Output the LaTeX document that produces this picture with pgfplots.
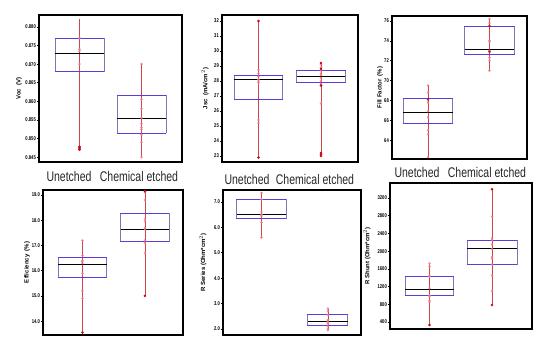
\documentclass[border=0pt]{standalone}
\usepackage{fontspec}
\setmainfont{Liberation Sans}
\newfontfamily\narrowfont[FakeStretch=0.75]{Liberation Sans}
\usepackage{pgfplots}
\pgfplotsset{compat=1.18}
\definecolor{boxc}{RGB}{95,60,215}
\definecolor{boxs}{RGB}{135,115,175}
\definecolor{whisk}{RGB}{205,70,70}
\definecolor{ptc}{RGB}{240,120,140}
\definecolor{ptd}{RGB}{200,10,25}
\pgfplotsset{
  panel/.style={
    scale only axis, anchor=south west,
    axis line style={line width=1.5pt, black},
    xtick=\empty,
    ytick pos=left, tick align=outside,
    major tick length=2pt, minor tick length=1pt, minor y tick num=1,
    tick style={black, line width=0.5pt},
    /pgf/number format/assume math mode=true,
    /pgf/number format/1000 sep={},
    yticklabel style={font=\narrowfont\bfseries\fontsize{5.5}{6}\selectfont, inner sep=1pt},
    ylabel style={font=\bfseries\fontsize{6}{7}\selectfont, at={(axis description cs:0,0.5)}, anchor=center},
    clip=false,
  },
}
% xl, xr, lower quartile, median, upper quartile
\newcommand{\bx}[5]{%
  \addplot[boxs, line width=0.9pt, line cap=rect] coordinates {(#1,#3) (#1,#5)};
  \addplot[boxs, line width=0.9pt, line cap=rect] coordinates {(#2,#3) (#2,#5)};
  \addplot[boxc, line width=0.9pt, line cap=rect] coordinates {(#1,#3) (#2,#3)};
  \addplot[boxc, line width=0.9pt, line cap=rect] coordinates {(#1,#5) (#2,#5)};
  \addplot[black, line width=0.9pt] coordinates {(#1,#4) (#2,#4)};
}
\newcommand{\wl}[3]{\addplot[whisk, line width=0.5pt] coordinates {(#1,#2) (#1,#3)};}
\begin{document}
\begin{tikzpicture}
\useasboundingbox (0,0) rectangle (554pt,352pt);
% ---------- Voc
\begin{axis}[panel, at={(39pt,190pt)}, width=143pt, height=147pt,
  xmin=0.347, xmax=2.653, ymin=0.8437, ymax=0.8832,
  ytick={0.845,0.850,0.855,0.860,0.865,0.870,0.875,0.880},
  yticklabel style={/pgf/number format/.cd, fixed, fixed zerofill, precision=3},
  ylabel={Voc\ \ (V)}, ylabel style={yshift=20pt}]
\wl{1}{0.847}{0.882}
\wl{2}{0.845}{0.870}
\addplot[only marks, mark=*, mark size=1.1pt, ptc, opacity=0.7] coordinates {(1,0.874) (1,0.870) (1,0.8735) (1,0.877) (2,0.8605) (2,0.858) (2,0.8555) (2,0.854) (2,0.853) (2,0.8525) (2,0.851) (2,0.849) (2,0.845) (2,0.870)};
\addplot[only marks, mark=*, mark size=1.1pt, ptd] coordinates {(1,0.8475) (1,0.8478) (1,0.847) (1,0.8472)};
\bx{0.605}{1.395}{0.868}{0.873}{0.877}
\bx{1.605}{2.395}{0.8515}{0.8555}{0.8615}
\end{axis}
% ---------- Jsc
\begin{axis}[panel, at={(222pt,190pt)}, width=136pt, height=147pt,
  xmin=0.416, xmax=2.59, ymin=22.6, ymax=32.4,
  ytick={23,24,...,32},
  ylabel={Jsc\ \ (mA/cm$^{2}$)}, ylabel style={yshift=17pt}]
\wl{1}{22.9}{32.0}
\wl{2}{23.1}{29.2}
\addplot[only marks, mark=*, mark size=1.1pt, ptc, opacity=0.7] coordinates {(1,28.75) (1,28.5) (1,28.3) (1,28.1) (1,28.0) (1,27.9) (1,25.4) (1,25.2) (2,29.1) (2,28.9) (2,28.7) (2,28.5) (2,28.4) (2,28.2) (2,28.0) (2,27.8) (2,27.7) (2,26.5)};
\addplot[only marks, mark=*, mark size=1.1pt, ptd] coordinates {(1,32.0) (1,22.9) (2,29.2) (2,28.8) (2,27.7) (2,23.2) (2,23.1) (2,23.0)};
\bx{0.61}{1.39}{26.8}{28.1}{28.4}
\bx{1.61}{2.39}{27.9}{28.3}{28.7}
\end{axis}
% ---------- Fill factor
\begin{axis}[panel, at={(392pt,193pt)}, width=135pt, height=143pt,
  xmin=0.415, xmax=2.61, ymin=62.1, ymax=76.5,
  ytick={64,66,...,76},
  ylabel={Fill Factor\ \ (\%)}, ylabel style={yshift=12pt}]
\wl{1}{62.2}{69.6}
\wl{2}{71.0}{76.2}
\addplot[only marks, mark=*, mark size=1.1pt, ptc, opacity=0.7] coordinates {(1,69.5) (1,68.8) (1,67.8) (1,66.9) (1,66.3) (1,65.0) (1,64.6) (1,62.3) (2,76.2) (2,75.8) (2,74.0) (2,73.9) (2,73.0) (2,72.9) (2,72.3) (2,72.0) (2,71.0)};
\addplot[only marks, mark=*, mark size=1.1pt, ptd, opacity=0.8] coordinates {(1,68.1) (2,75.5) (2,72.9)};
\bx{0.60}{1.40}{65.7}{66.8}{68.15}
\bx{1.60}{2.40}{72.6}{73.1}{75.4}
\end{axis}
% ---------- Efficiency
\begin{axis}[panel, at={(43pt,17pt)}, width=140pt, height=145pt,
  xmin=0.368, xmax=2.61, ymin=13.45, ymax=19.2,
  ytick={14,15,...,19},
  yticklabel style={/pgf/number format/.cd, fixed, fixed zerofill, precision=1},
  ylabel={Efficiency\ \ (\%)}, ylabel style={yshift=16pt}]
\wl{1}{13.55}{17.2}
\wl{2}{15.0}{19.15}
\addplot[only marks, mark=*, mark size=1.1pt, ptc, opacity=0.7] coordinates {(1,17.2) (1,16.6) (1,16.4) (1,16.35) (1,16.3) (1,15.9) (1,15.2) (1,14.9) (2,19.1) (2,18.8) (2,18.05) (2,17.95) (2,17.7) (2,17.65) (2,17.2) (2,17.1) (2,16.7)};
\addplot[only marks, mark=*, mark size=1.1pt, ptd] coordinates {(1,13.55) (2,15.0) (2,19.15)};
\bx{0.61}{1.39}{15.73}{16.26}{16.52}
\bx{1.615}{2.385}{17.15}{17.63}{18.28}
\end{axis}
% ---------- R series
\begin{axis}[panel, at={(223pt,17pt)}, width=138pt, height=145pt,
  xmin=0.42, xmax=2.50, ymin=1.76, ymax=7.47,
  ytick={2,3,...,7},
  yticklabel style={/pgf/number format/.cd, fixed, fixed zerofill, precision=1},
  ylabel={R Series (Ohm*cm$^{2}$)}, ylabel style={yshift=20pt}]
\wl{1}{5.58}{7.4}
\wl{2}{1.95}{2.8}
\addplot[only marks, mark=*, mark size=1.1pt, ptc, opacity=0.7] coordinates {(1,7.35) (1,7.1) (1,6.6) (1,6.5) (1,6.45) (1,6.2) (1,5.6) (2,2.8) (2,2.7) (2,2.55) (2,2.35) (2,2.3) (2,2.25) (2,2.2) (2,2.1) (2,2.0) (2,1.95)};
\bx{0.63}{1.37}{6.33}{6.49}{7.08}
\bx{1.70}{2.30}{2.12}{2.28}{2.55}
\end{axis}
% ---------- R shunt
\begin{axis}[panel, at={(390pt,23pt)}, width=142pt, height=146pt,
  xmin=0.368, xmax=2.64, ymin=240, ymax=3540,
  ytick={400,800,...,3200},
  ylabel={R Shunt (Ohm*cm$^{2}$)}, ylabel style={yshift=23pt}]
\wl{1}{330}{1720}
\wl{2}{780}{3400}
\addplot[only marks, mark=*, mark size=1.1pt, ptc, opacity=0.7] coordinates {(1,1720) (1,1650) (1,1440) (1,1420) (1,1160) (1,1000) (1,980) (1,880) (1,850) (2,2780) (2,2300) (2,2250) (2,2150) (2,2050) (2,1870) (2,1830) (2,1700) (2,1450) (2,1100)};
\addplot[only marks, mark=*, mark size=1.1pt, ptd] coordinates {(1,330) (2,3400) (2,780)};
\bx{0.61}{1.39}{990}{1140}{1420}
\bx{1.60}{2.40}{1700}{2070}{2250}
\end{axis}
% ---------- category labels
\begin{scope}[every node/.style={font=\narrowfont\fontsize{14}{16}\selectfont, text=black!85, inner sep=0pt}]
\node at (69pt,175pt) {Unetched};
\node at (139pt,175pt) {Chemical etched};
\node at (247pt,172pt) {Unetched};
\node at (315pt,172pt) {Chemical etched};
\node at (417pt,179pt) {Unetched};
\node at (487pt,179pt) {Chemical etched};
\end{scope}
\end{tikzpicture}
\end{document}
